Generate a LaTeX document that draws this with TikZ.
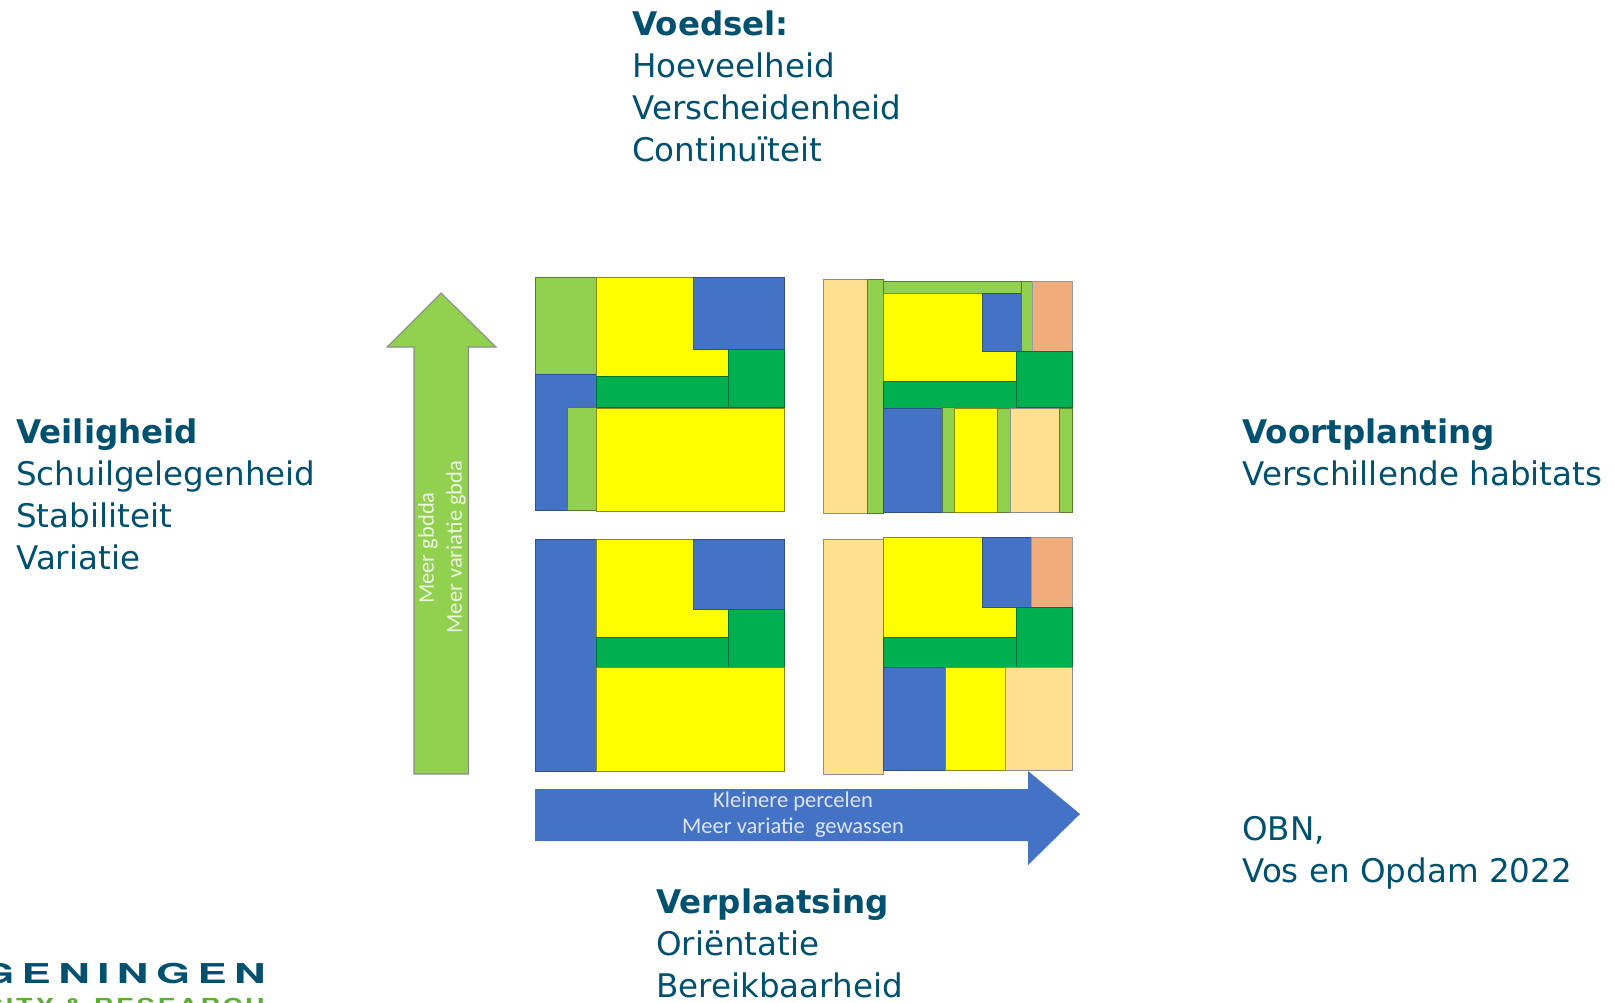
\documentclass[tikz,border=0pt]{standalone}
\usepackage{fontspec}
\setmainfont{DejaVu Sans}
\newfontfamily\arrowfont{Carlito}
\newfontfamily\logofont[FakeStretch=1.6,LetterSpace=27]{TeX Gyre Heros Bold}
\newfontfamily\logosubfont[FakeStretch=1.4,LetterSpace=14]{TeX Gyre Heros Bold}
\definecolor{tealtext}{HTML}{00506F}
\definecolor{cblue}{HTML}{4472C4}
\definecolor{clime}{HTML}{92D050}
\definecolor{cyel}{HTML}{FFFF00}
\definecolor{cgreen}{HTML}{00B050}
\definecolor{ccream}{HTML}{FFE091}
\definecolor{corange}{HTML}{F2AB7A}
\definecolor{logogreen}{HTML}{5AAE32}
\tikzset{
  blue cell/.style={fill=cblue,draw=cblue!70!black,line width=0.6pt},
  lime cell/.style={fill=clime,draw=clime!60!black,line width=0.6pt},
  yellow cell/.style={fill=cyel,draw=cyel!55!black,line width=0.6pt},
  green cell/.style={fill=cgreen,draw=cgreen!65!black,line width=0.6pt},
  cream cell/.style={fill=ccream,draw=black!45,line width=0.7pt},
  orange cell/.style={fill=corange,draw=black!40,line width=0.6pt},
  label block/.style={anchor=north west,align=left,inner sep=0pt,text=tealtext,font=\fontsize{24.4}{31.5}\selectfont},
  arrow label/.style={inner sep=0pt,align=center,font=\arrowfont\fontsize{16.9}{16.9}\selectfont},
}
\begin{document}
\begin{tikzpicture}[x=0.75pt,y=-0.75pt]
\useasboundingbox (0,0) rectangle (1615,1002);
\clip (0,0) rectangle (1615,1002);
% panel top-left
\path[lime cell] (535,277) rectangle (596.5,374);
\path[blue cell] (535,374) -- (596.5,374) -- (596.5,407) -- (567,407) -- (567,510) -- (535,510) -- cycle;
\path[lime cell] (567,407) rectangle (596.5,510);
\path[yellow cell] (596.5,277) -- (693,277) -- (693,349) -- (728,349) -- (728,376) -- (596.5,376) -- cycle;
\path[blue cell] (693,277) rectangle (784,349);
\path[green cell] (596.5,376) rectangle (728,407);
\path[green cell] (728,349) rectangle (784,407);
\path[yellow cell] (596.5,408) rectangle (784,511);
% panel top-right
\path[cream cell] (823,279) rectangle (867,513);
\path[lime cell] (867,279) rectangle (883,513);
\path[lime cell] (883,281) rectangle (1021,293);
\path[yellow cell] (883,293) -- (982,293) -- (982,351) -- (1016,351) -- (1016,381) -- (883,381) -- cycle;
\path[blue cell] (982,293) rectangle (1021,351);
\path[lime cell] (1021,281) rectangle (1032,351);
\path[orange cell] (1032,281) rectangle (1072,351);
\path[green cell] (883,381) rectangle (1016,408);
\path[green cell] (1016,351) rectangle (1072,407);
\path[blue cell] (883,408) rectangle (942,512);
\path[lime cell] (942,407) rectangle (954,512);
\path[yellow cell] (954,408) rectangle (997,512);
\path[lime cell] (997,408) rectangle (1010,512);
\path[cream cell,line width=0.3pt] (1010,408) rectangle (1059,512);
\path[lime cell] (1059,408) rectangle (1072,512);
% panel bottom-left
\path[blue cell] (535,539) rectangle (596.5,771);
\path[yellow cell] (596.5,539) -- (693,539) -- (693,609) -- (728,609) -- (728,637) -- (596.5,637) -- cycle;
\path[blue cell] (693,539) rectangle (784,609);
\path[green cell] (596.5,637) rectangle (728,667);
\path[green cell] (728,609) rectangle (784,667);
\path[yellow cell] (596.5,667) rectangle (784,771);
% panel bottom-right
\path[cream cell] (823,539) rectangle (883,774);
\path[yellow cell] (883,537) -- (982,537) -- (982,607) -- (1016,607) -- (1016,637) -- (883,637) -- cycle;
\path[blue cell] (982,537) rectangle (1031,607);
\path[orange cell] (1031,537) rectangle (1072,607);
\path[green cell] (883,637) rectangle (1016,667);
\path[green cell] (1016,607) rectangle (1072,667);
\path[blue cell] (883,667) rectangle (945,770);
\path[yellow cell] (945,667) rectangle (1005,770);
\path[cream cell] (1005,667) rectangle (1072,770);
% arrows
\path[fill=clime,draw=black!45,line width=0.8pt] (441,293) -- (496,347) -- (468.5,347) -- (468.5,774) -- (414,774) -- (414,347) -- (387,347) -- cycle;
\path[fill=cblue] (535,789) -- (1028,789) -- (1028,771) -- (1080,814) -- (1028,865) -- (1028,841) -- (535,841) -- cycle;
\node[arrow label,rotate=90,text=white!82!clime] (gbdda) at (428,548) {Meer gbdda};
\node[arrow label,rotate=90,text=white!82!clime] (vargbda) at (456,547) {Meer variatie gbda};
\node[arrow label,text=white!82!cblue] (percelen) at (793,801) {Kleinere percelen};
\node[arrow label,text=white!82!cblue] (gewassen) at (793,828) {Meer variatie\ \ gewassen};
% text blocks
\node[label block] (voedsel) at (632,11) {\textbf{Voedsel:}\\Hoeveelheid\\Verscheidenheid\\Continuïteit};
\node[label block] (veiligheid) at (16,419) {\textbf{Veiligheid}\\Schuilgelegenheid\\Stabiliteit\\Variatie};
\node[label block] (voortplanting) at (1242,419) {\textbf{Voortplanting}\\Verschillende habitats};
\node[label block] (obn) at (1242,816.5) {OBN,\\Vos en Opdam 2022};
\node[label block] (verplaatsing) at (656,889) {\textbf{Verplaatsing}\\Oriëntatie\\Bereikbaarheid};
% logo
\node[anchor=base east,inner sep=0pt,text=tealtext,font=\logofont\fontsize{20.5}{20.5}\selectfont] (logoa) at (266,983) {GENINGEN};
\node[anchor=base east,inner sep=0pt,text=logogreen,font=\logosubfont\fontsize{14.5}{14.5}\selectfont] (logob) at (265,1012) {RSITY \& RESEARCH};
\end{tikzpicture}
\end{document}
